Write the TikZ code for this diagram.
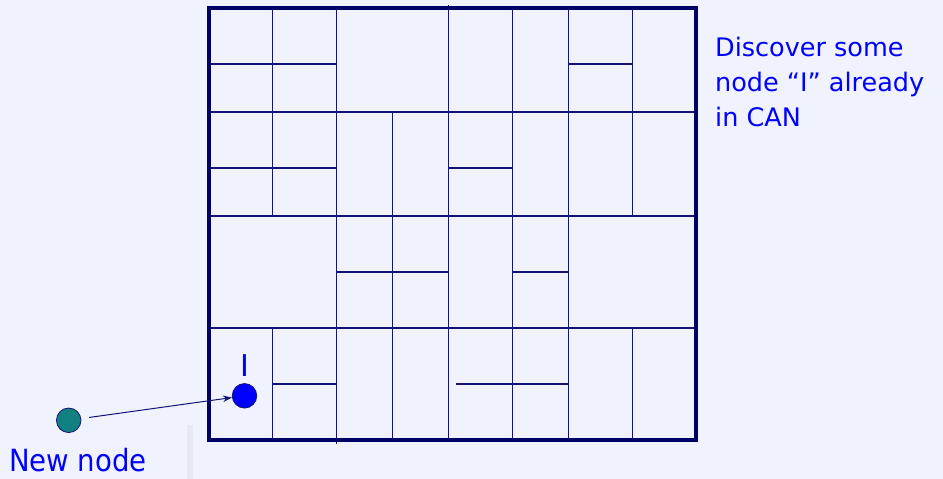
\documentclass[tikz,border=0pt]{standalone}
\usepackage{fontspec}
\setmainfont{DejaVu Sans}
\newfontfamily\condfont[FakeStretch=0.9]{DejaVu Sans}
\usetikzlibrary{arrows.meta}
\definecolor{bg}{RGB}{240,243,253}
\definecolor{gridc}{RGB}{20,20,120}
\definecolor{borderc}{RGB}{0,0,100}
\definecolor{tealc}{RGB}{16,128,128}
\definecolor{txtc}{RGB}{0,0,255}
\definecolor{faint}{RGB}{229,233,246}
\begin{document}
\begin{tikzpicture}[x=1pt,y=-1pt,
  gridline/.style={draw=gridc,line width=1.6pt},
  border/.style={draw=borderc,line width=4pt},
  dot/.style={circle,draw=gridc,line width=0.8pt,inner sep=0pt,minimum size=24.5pt},
  label/.style={inner sep=0pt,text=txtc},
  conn/.style={draw=gridc,line width=1pt,-{Stealth[length=9pt,width=6.5pt]}}]
\useasboundingbox (0,0) rectangle (943,479);
\fill[bg] (0,0) rectangle (943,479);
\fill[faint] (187,425) rectangle (193,479);
% vertical grid lines
\draw[gridline] (272.3,8) -- (272.3,216);
\draw[gridline] (272.3,328) -- (272.3,439.7);
\draw[gridline] (336.3,8) -- (336.3,444);
\draw[gridline] (392.3,112) -- (392.3,439.7);
\draw[gridline] (448.3,5) -- (448.3,439.7);
\draw[gridline] (512.3,8) -- (512.3,439.7);
\draw[gridline] (568.3,8) -- (568.3,439.7);
\draw[gridline] (632.3,8) -- (632.3,216);
\draw[gridline] (632.3,328) -- (632.3,439.7);
% horizontal grid lines
\draw[gridline] (208.7,63.7) -- (336.3,63.7);
\draw[gridline] (568.3,63.7) -- (632.3,63.7);
\draw[gridline] (208.7,112) -- (696,112);
\draw[gridline] (208.7,168) -- (336.3,168);
\draw[gridline] (448.3,168) -- (512.3,168);
\draw[gridline] (208.7,216) -- (696,216);
\draw[gridline] (336.3,272) -- (448.3,272);
\draw[gridline] (512.3,272) -- (568.3,272);
\draw[gridline] (208.7,328) -- (696,328);
\draw[gridline] (272.3,384) -- (336.3,384);
\draw[gridline] (456,384) -- (568.3,384);
% outer border
\draw[border] (208.7,8) rectangle (696,439.7);
% nodes
\node[dot,fill=blue] (I) at (244.5,395.8) {};
\node[dot,fill=tealc] (new) at (68.7,420.3) {};
\draw[conn,shorten <=8pt] (new) -- (I);
% texts
\node[label,anchor=base,font=\fontsize{30}{36}\selectfont] (ilab) at (244.5,376) {I};
\node[label,anchor=base west,font=\condfont\fontsize{30.6}{36}\selectfont] (newlab) at (9,471.7) {New node};
\node[label,anchor=base west,align=left,font=\fontsize{25.5}{35}\selectfont] (disc) at (715,126.7)
  {Discover some\\node “I” already\\in CAN};
\end{tikzpicture}
\end{document}
